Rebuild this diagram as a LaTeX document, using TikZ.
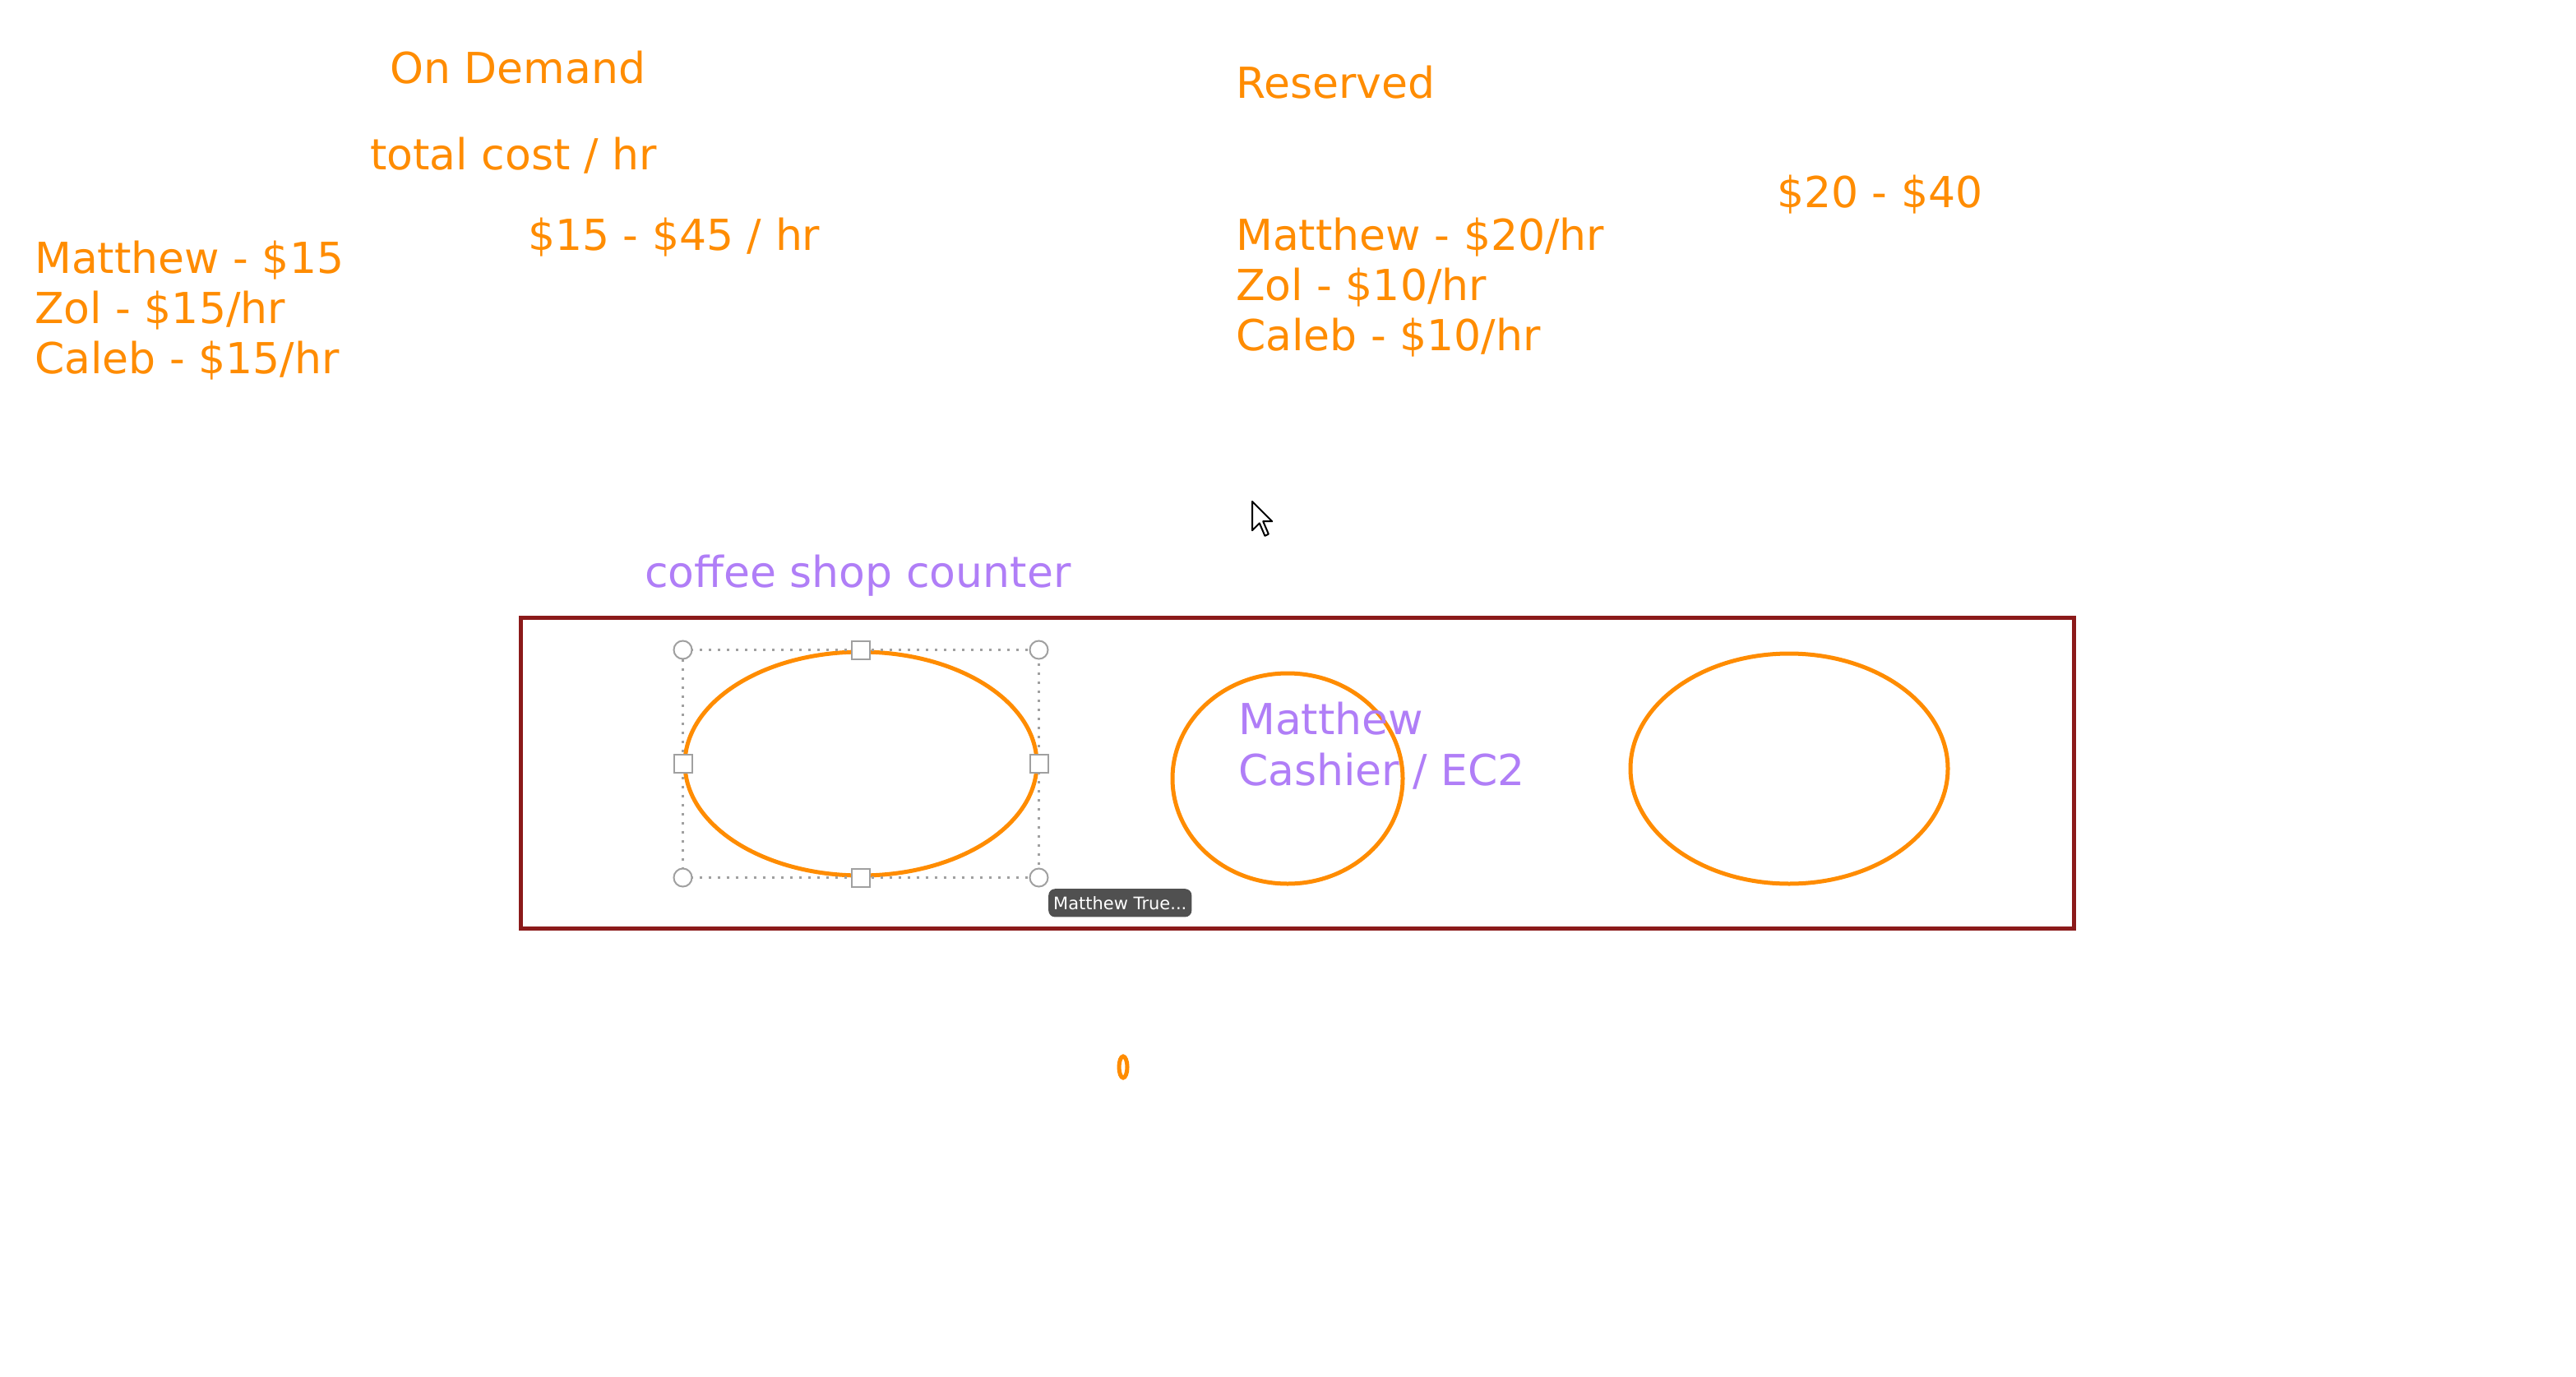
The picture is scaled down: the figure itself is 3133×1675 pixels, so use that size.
\documentclass[tikz,border=0pt]{standalone}
\usepackage{fontspec}
\setmainfont{DejaVu Sans}
\usetikzlibrary{shapes.geometric}

\definecolor{penorange}{HTML}{FF8C00}
\definecolor{penpurple}{HTML}{B07EF7}
\definecolor{counterred}{HTML}{8B1A1A}
\definecolor{handlegray}{HTML}{A0A0A0}
\definecolor{tipgray}{HTML}{505050}

\tikzset{
    ink/.style={anchor=base west, inner sep=0pt, font=\fontsize{52}{62}\selectfont},
    orangeink/.style={ink, text=penorange},
    purpleink/.style={ink, text=penpurple},
    seat/.style={ellipse, draw=penorange, line width=5pt, inner sep=0pt},
    roundhandle/.style={circle, draw=handlegray, fill=white, line width=2pt, minimum size=22pt, inner sep=0pt},
    squarehandle/.style={rectangle, draw=handlegray, fill=white, line width=2pt, minimum size=22pt, inner sep=0pt}
}

\begin{document}
\begin{tikzpicture}[x=1pt, y=-1pt]

    % page size of the reference
    \useasboundingbox[fill=white] (0,0) rectangle (3133,1675);

    % On Demand column
    \node[orangeink] (ondemand) at (474,102) {On Demand};
    \node[orangeink] (totalcost) at (450,206) {total cost / hr};
    \node[orangeink] (odrange) at (642,304) {\$15 - \$45 / hr};
    \foreach \i/\who in {
        0/{Matthew - \$15},
        1/{Zol - \$15/hr},
        2/{Caleb - \$15/hr}
    } {
        \node[orangeink] (od\i) at (42,332+61*\i) {\who};
    }

    % Reserved column
    \node[orangeink] (reserved) at (1503,120) {Reserved};
    \node[orangeink] (resrange) at (2161,252) {\$20 - \$40};
    \foreach \i/\who in {
        0/{Matthew - \$20/hr},
        1/{Zol - \$10/hr},
        2/{Caleb - \$10/hr}
    } {
        \node[orangeink] (res\i) at (1503,304+61*\i) {\who};
    }

    % the counter
    \node[purpleink] (countername) at (784,714) {coffee shop counter};
    \draw[counterred, line width=5pt] (633,751) rectangle (2522,1129);

    \node[seat, minimum width=428pt, minimum height=272pt] (seat1) at (1047,929) {};
    \node[seat, minimum width=280pt, minimum height=256pt] (seat2) at (1566,947) {};
    \node[seat, minimum width=386pt, minimum height=280pt] (seat3) at (2176,935) {};

    \node[purpleink] (cashier1) at (1506,893) {Matthew};
    \node[purpleink] (cashier2) at (1506,955) {Cashier / EC2};

    % selection frame on the first seat
    \coordinate (nw) at (seat1.west |- seat1.north);
    \coordinate (ne) at (seat1.east |- seat1.north);
    \coordinate (sw) at (seat1.west |- seat1.south);
    \coordinate (se) at (seat1.east |- seat1.south);
    \draw[handlegray, line width=3pt, dash pattern=on 3pt off 8pt] (nw) rectangle (se);
    \foreach \c in {nw, ne, sw, se} {
        \node[roundhandle] at (\c) {};
    }
    \foreach \c in {north, south, east, west} {
        \node[squarehandle] at (seat1.\c) {};
    }

    % tooltip
    \node[anchor=north west, fill=tipgray, text=white, rounded corners=8pt,
          inner xsep=6pt, inner ysep=9pt, font=\fontsize{21}{25}\selectfont]
          (tooltip) at (1275,1081) {Matthew True...};

    % little stray mark
    \draw[penorange, line width=5pt] (1366,1298) ellipse (5 and 13);

    % mouse pointer
    \draw[black, fill=white, line width=2pt, line join=round, shift={(1523,610)}, scale=2.2]
        (0,0) -- (0,16) -- (4,12) -- (7,19) -- (9,18) -- (6,11) -- (11,11) -- cycle;

\end{tikzpicture}
\end{document}
